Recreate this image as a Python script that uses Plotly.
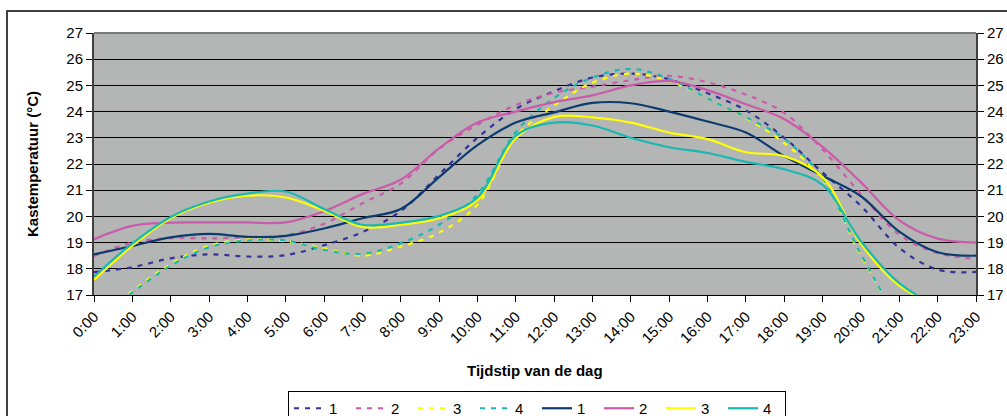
import plotly.graph_objects as go

hours = list(range(24))
hour_labels = [f"{h}:00" for h in hours]

# dashed series
s1_dash = [17.87, 18.06, 18.40, 18.55, 18.47, 18.52, 18.90, 19.40, 20.20, 21.60, 23.00, 24.10,
           24.78, 25.30, 25.45, 25.23, 24.70, 24.05, 23.00, 21.67, 20.40, 18.80, 17.97, 17.88]
s2_dash = [18.49, 19.00, 19.17, 19.16, 19.20, 19.27, 19.72, 20.50, 21.25, 22.58, 23.50, 24.25,
           24.72, 24.95, 25.20, 25.36, 25.12, 24.65, 23.95, 22.55, 20.85, 19.30, 18.60, 18.38]
s3_dash = [16.00, 17.15, 18.18, 18.88, 19.12, 19.05, 18.78, 18.50, 18.85, 19.38, 20.45, 23.04,
           24.23, 25.10, 25.45, 25.17, 24.50, 23.75, 22.80, 21.40, 18.50, 16.30, 15.80, 15.60]
s4_dash = [16.00, 17.10, 18.12, 18.82, 19.08, 19.08, 18.72, 18.57, 18.98, 19.68, 20.84, 23.22,
           24.52, 25.30, 25.63, 25.25, 24.50, 23.78, 22.97, 21.45, 18.55, 16.30, 15.80, 15.60]

# solid series
s1_solid = [18.55, 18.87, 19.20, 19.33, 19.22, 19.26, 19.54, 19.93, 20.28, 21.50, 22.72, 23.58,
            23.97, 24.33, 24.32, 24.00, 23.62, 23.20, 22.30, 21.55, 20.77, 19.42, 18.63, 18.50]
s2_solid = [19.13, 19.64, 19.76, 19.77, 19.77, 19.77, 20.20, 20.85, 21.40, 22.60, 23.58, 24.00,
            24.36, 24.62, 25.00, 25.17, 24.82, 24.28, 23.72, 22.65, 21.30, 19.85, 19.15, 19.00]
s3_solid = [17.57, 18.88, 19.93, 20.52, 20.79, 20.72, 20.22, 19.60, 19.68, 19.93, 20.62, 22.98,
            23.80, 23.78, 23.58, 23.20, 22.95, 22.45, 22.30, 21.50, 18.95, 17.36, 16.60, 16.20]
s4_solid = [17.70, 18.97, 19.98, 20.57, 20.87, 20.95, 20.28, 19.68, 19.76, 20.02, 20.72, 23.08,
            23.58, 23.47, 23.00, 22.64, 22.42, 22.08, 21.80, 21.20, 19.05, 17.45, 16.60, 16.20]

series_names = ["1", "2", "3", "4"]
colors = ["#333399", "#CC5AAA", "#FFFF00", "#1AB8B0"]
solid_colors = ["#0D3B6E", "#CC5AAA", "#FFFF00", "#1AB8B0"]

FONT = "Liberation Sans, Arial, sans-serif"

fig = go.Figure()
for name, vals, col in zip(series_names, [s1_dash, s2_dash, s3_dash, s4_dash], colors):
    fig.add_trace(go.Scatter(x=hours, y=vals, name=name, mode="lines",
                             line=dict(color=col, width=2.2, dash="5px,6px", shape="spline", smoothing=1)))
for name, vals, col in zip(series_names, [s1_solid, s2_solid, s3_solid, s4_solid], solid_colors):
    fig.add_trace(go.Scatter(x=hours, y=vals, name=name, mode="lines",
                             line=dict(color=col, width=2.2, shape="spline", smoothing=1)))

W, H = 1007, 416
L, R, T, B = 94, 31, 33, 121
pw, ph = W - L - R, H - T - B

def px(x):
    return (x - L) / pw

def py(y):
    return (H - B - y) / ph

fig.update_layout(
    width=W, height=H,
    margin=dict(l=L, r=R, t=T, b=B, autoexpand=False),
    paper_bgcolor="white",
    plot_bgcolor="#B4B6B6",
    font=dict(family=FONT, size=15, color="black"),
    showlegend=True,
    legend=dict(orientation="h", x=px(288), y=py(391), xanchor="left", yanchor="top",
                bgcolor="white", bordercolor="black", borderwidth=1,
                font=dict(size=15), entrywidth=17, entrywidthmode="pixels",
                tracegroupgap=0, itemwidth=30),
    xaxis=dict(range=[0, 23], tickvals=hours, ticktext=hour_labels, tickangle=-45,
               ticks="outside", ticklen=6, tickcolor="black", showgrid=False,
               showline=True, linecolor="black", linewidth=1, zeroline=False,
               tickfont=dict(size=15)),
    yaxis=dict(range=[17, 27], dtick=1, tick0=17, showgrid=True, gridcolor="black", gridwidth=1,
               ticks="outside", ticklen=6, tickcolor="black", showline=True,
               linecolor="#404040", linewidth=2, zeroline=False, tickfont=dict(size=15)),
    yaxis2=dict(range=[17, 27], dtick=1, tick0=17, overlaying="y", side="right", showgrid=False,
                ticks="outside", ticklen=6, tickcolor="black", showline=True,
                linecolor="#404040", linewidth=2, zeroline=False, tickfont=dict(size=15)),
    annotations=[
        dict(text="<b>Kastemperatuur (°C)</b>", xref="paper", yref="paper", x=px(32), y=0.5,
             textangle=-90, showarrow=False, font=dict(size=15), xanchor="center", yanchor="middle"),
        dict(text="<b>Tijdstip van de dag</b>", xref="paper", yref="paper", x=0.5, y=py(370),
             showarrow=False, font=dict(size=15), xanchor="center", yanchor="middle"),
    ],
    shapes=[
        dict(type="rect", xref="paper", yref="paper", x0=px(7), y0=py(425), x1=px(1015), y1=py(11),
             line=dict(color="#404040", width=2), fillcolor="rgba(0,0,0,0)", layer="below"),
        dict(type="line", xref="paper", yref="paper", x0=0, x1=1, y0=1, y1=1,
             line=dict(color="#7A7A7A", width=2)),
    ],
)
# invisible trace to bind the right-hand axis
fig.add_trace(go.Scatter(x=[0], y=[17], yaxis="y2", showlegend=False, mode="markers",
                         marker=dict(opacity=0), hoverinfo="skip"))

fig.write_html("out.html", config={"displayModeBar": False},
               post_script="document.body.style.margin='0px';document.body.style.padding='0px';")
